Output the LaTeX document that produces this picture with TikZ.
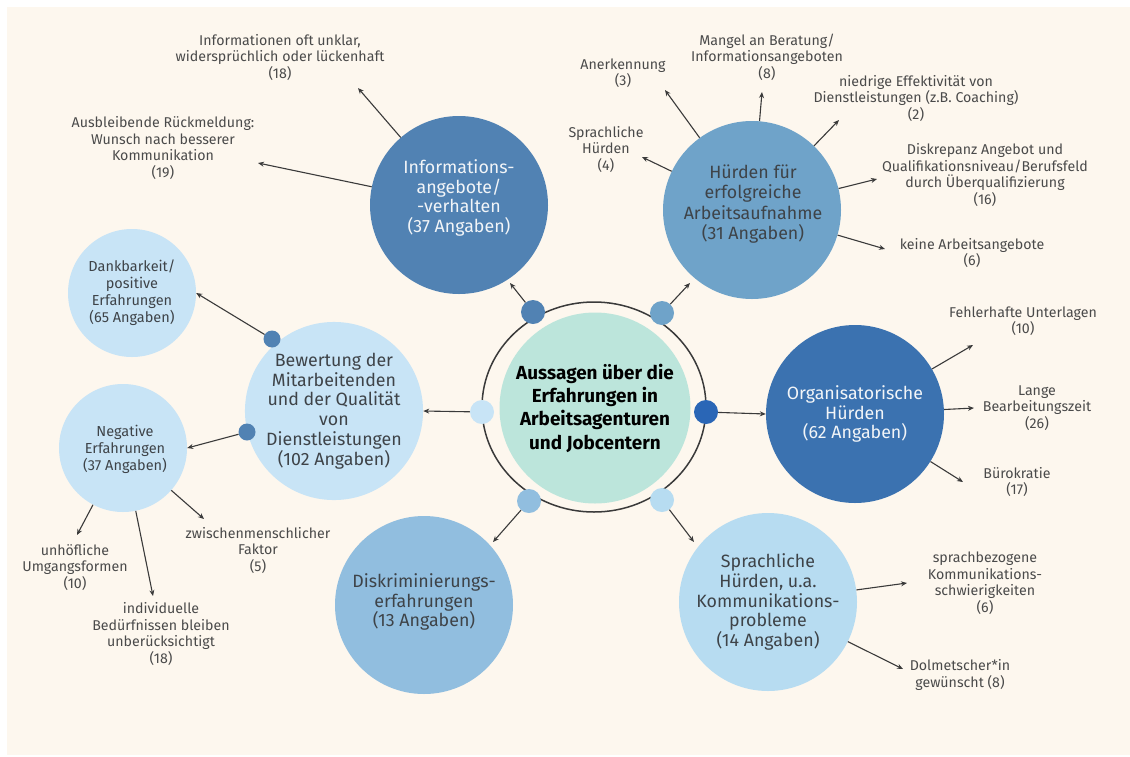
\documentclass[tikz,border=0pt]{standalone}
\usepackage{fontspec}
\setmainfont{Fira Sans}
\usetikzlibrary{arrows.meta}
\definecolor{cream}{HTML}{FDF7EE}
\definecolor{cInfo}{HTML}{5182B3}
\definecolor{cHuerd}{HTML}{6FA3C9}
\definecolor{cOrg}{HTML}{3B72B0}
\definecolor{cSprach}{HTML}{B7DCF1}
\definecolor{cDiskr}{HTML}{91BEDF}
\definecolor{cBew}{HTML}{C8E4F6}
\definecolor{cMint}{HTML}{BCE5DB}
\definecolor{cDotR}{HTML}{2A66B6}
\definecolor{lblgray}{HTML}{4A4A4A}
\definecolor{arrgray}{HTML}{3A3A3A}
\definecolor{darktext}{HTML}{3E4348}
\definecolor{lighttext}{HTML}{F2F5F8}
\newcommand{\bigfont}{\fontsize{17.8}{19.7}\selectfont}
\begin{document}
\begin{tikzpicture}[x=1pt,y=-1pt,
  bubble/.style={circle, inner sep=0pt, minimum size=178pt, align=center,
    font=\bigfont},
  smallbubble/.style={circle, inner sep=0pt, minimum size=128pt, align=center, fill=cBew,
    text=darktext, font=\fontsize{14.5}{17}\selectfont},
  ringdot/.style={circle, inner sep=0pt, minimum size=24pt},
  bdot/.style={circle, inner sep=0pt, minimum size=17pt, fill=cInfo},
  lbl/.style={align=center, text=lblgray, inner sep=0pt, font=\fontsize{14.2}{16.5}\selectfont},
  arr/.style={draw=arrgray, line width=1.1pt, -{Stealth[length=6pt,width=5pt]}}]
\useasboundingbox (0,0) rectangle (1130,756);
\fill[white] (0,0) rectangle (1130,756);
\fill[cream] (7,7) rectangle (1130,755);

% central ring and hub
\draw[arrgray, line width=1.5pt] (594,407) ellipse [x radius=112, y radius=105];
\node[circle, fill=cMint, minimum size=191pt, inner sep=0pt, align=center,
  font=\bfseries\fontsize{18.9}{23.3}\selectfont, text=black] (hub) at (595,408)
  {Aussagen über die\\Erfahrungen in\\Arbeitsagenturen\\und Jobcentern};

% ring dots
\node[ringdot, fill=cInfo] (dTL) at (533,312) {};
\node[ringdot, fill=cHuerd] (dTR) at (662,313) {};
\node[ringdot, fill=cDotR] (dR) at (706,412) {};
\node[ringdot, fill=cSprach] (dBR) at (662,500) {};
\node[ringdot, fill=cDiskr] (dBL) at (529,501) {};
\node[ringdot, fill=cBew] (dL) at (482,412) {};

% main bubbles
\node[bubble, fill=cInfo, text=lighttext] (info) at (459,205) {};
\node[text=lighttext, align=center, font=\bigfont] at (459,198)
  {Informations-\\angebote/\\-verhalten\\(37 Angaben)};
\node[bubble, fill=cHuerd, text=darktext] (huerd) at (752,210) {};
\node[text=darktext, align=center, font=\fontsize{17.8}{20.5}\selectfont] at (753,204)
  {Hürden für\\erfolgreiche\\Arbeitsaufnahme\\(31 Angaben)};
\node[bubble, fill=cOrg, text=lighttext] (org) at (855,414)
  {Organisatorische\\Hürden\\(62 Angaben)};
\node[bubble, fill=cSprach, text=darktext] (sprach) at (768,602)
  {Sprachliche\\Hürden, u.a.\\Kommunikations-\\probleme\\(14 Angaben)};
\node[bubble, fill=cDiskr, text=darktext] (diskr) at (424,605) {};
\node[text=darktext, align=center, font=\bigfont] at (424,602)
  {Diskriminierungs-\\erfahrungen\\(13 Angaben)};
\node[bubble, fill=cBew, text=darktext] (bew) at (334,411)
  {Bewertung der\\Mitarbeitenden\\und der Qualität\\von\\Dienstleistungen\\(102 Angaben)};

% sub bubbles
\node[smallbubble] (dank) at (132,293) {Dankbarkeit/\\positive\\Erfahrungen\\(65 Angaben)};
\node[smallbubble] (neg) at (123,448) {};
\node[text=darktext, align=center, font=\fontsize{14.5}{17}\selectfont] at (125,449)
  {Negative\\Erfahrungen\\(37 Angaben)};
\node[bdot] (bd1) at (272,339) {};
\node[bdot] (bd2) at (247,432) {};

% labels
\node[lbl] (l1) at (280,57) {Informationen oft unklar,\\widersprüchlich oder lückenhaft\\(18)};
\node[lbl] (l2) at (163,148) {Ausbleibende Rückmeldung:\\Wunsch nach besserer\\Kommunikation\\(19)};
\node[lbl] (l3) at (623,73) {Anerkennung\\(3)};
\node[lbl] (l4) at (767,57) {Mangel an Beratung/\\Informationsangeboten\\(8)};
\node[lbl] (l5) at (916,98) {niedrige Effektivität von\\Dienstleistungen (z.B. Coaching)\\(2)};
\node[lbl] (l6) at (606,149) {Sprachliche\\Hürden\\(4)};
\node[lbl] (l7) at (985,175) {Diskrepanz Angebot und\\Qualifikationsniveau/Berufsfeld\\durch Überqualifizierung\\(16)};
\node[lbl] (l8) at (972,253) {keine Arbeitsangebote\\(6)};
\node[lbl] (l9) at (1023,321) {Fehlerhafte Unterlagen\\(10)};
\node[lbl] (l10) at (1037,408) {Lange\\Bearbeitungszeit\\(26)};
\node[lbl] (l11) at (1017,482) {Bürokratie\\(17)};
\node[lbl] (l12) at (985,583) {sprachbezogene\\Kommunikations-\\schwierigkeiten\\(6)};
\node[lbl] (l13) at (960,675) {Dolmetscher*in\\gewünscht (8)};
\node[lbl] (l14) at (75,567) {unhöfliche\\Umgangsformen\\(10)};
\node[lbl] (l15) at (161,634) {individuelle\\Bedürfnissen bleiben\\unberücksichtigt\\(18)};
\node[lbl] (l16) at (258,550) {zwischenmenschlicher\\Faktor\\(5)};

% arrow tips (free ends)
\coordinate (t1) at (358,88);
\coordinate (t2) at (258,163);
\coordinate (t3) at (665,90);
\coordinate (t4) at (762,92);
\coordinate (t5) at (839,120);
\coordinate (t6) at (642,157);
\coordinate (t7) at (877,179);
\coordinate (t8) at (885,249);
\coordinate (t9) at (973,345);
\coordinate (t10) at (974,408);
\coordinate (t11) at (963,482);
\coordinate (t12) at (907,583);
\coordinate (t13) at (903,669);
\coordinate (t14) at (77,535);
\coordinate (t15) at (153,596);
\coordinate (t16) at (204,519);
\coordinate (tTL) at (510,283);
\coordinate (tTR) at (690,283);
\coordinate (tBL) at (493,542);
\coordinate (tBR) at (694,542);

% connectors
\draw[arr] (info) -- (t1);
\draw[arr] (info) -- (t2);
\draw[arr] (huerd) -- (t3);
\draw[arr] (huerd) -- (t4);
\draw[arr] (huerd) -- (t5);
\draw[arr] (huerd) -- (t6);
\draw[arr] (huerd) -- (t7);
\draw[arr] (huerd) -- (t8);
\draw[arr] (org) -- (t9);
\draw[arr] (org) -- (t10);
\draw[arr] (org) -- (t11);
\draw[arr] (sprach) -- (t12);
\draw[arr] (sprach) -- (t13);
\draw[arr] (neg) -- (t14);
\draw[arr] (neg) -- (t15);
\draw[arr] (neg) -- (t16);
\draw[arr] (dTL) -- (tTL);
\draw[arr] (dTR) -- (tTR);
\draw[arr] (dBL) -- (tBL);
\draw[arr] (dBR) -- (tBR);
\draw[arr] (dL) -- (bew.east);
\draw[arr] (dR) -- (org.west);
\draw[arr] (bd1) -- (dank.east);
\draw[arr] (bd2) -- (neg.east);
\end{tikzpicture}
\end{document}
